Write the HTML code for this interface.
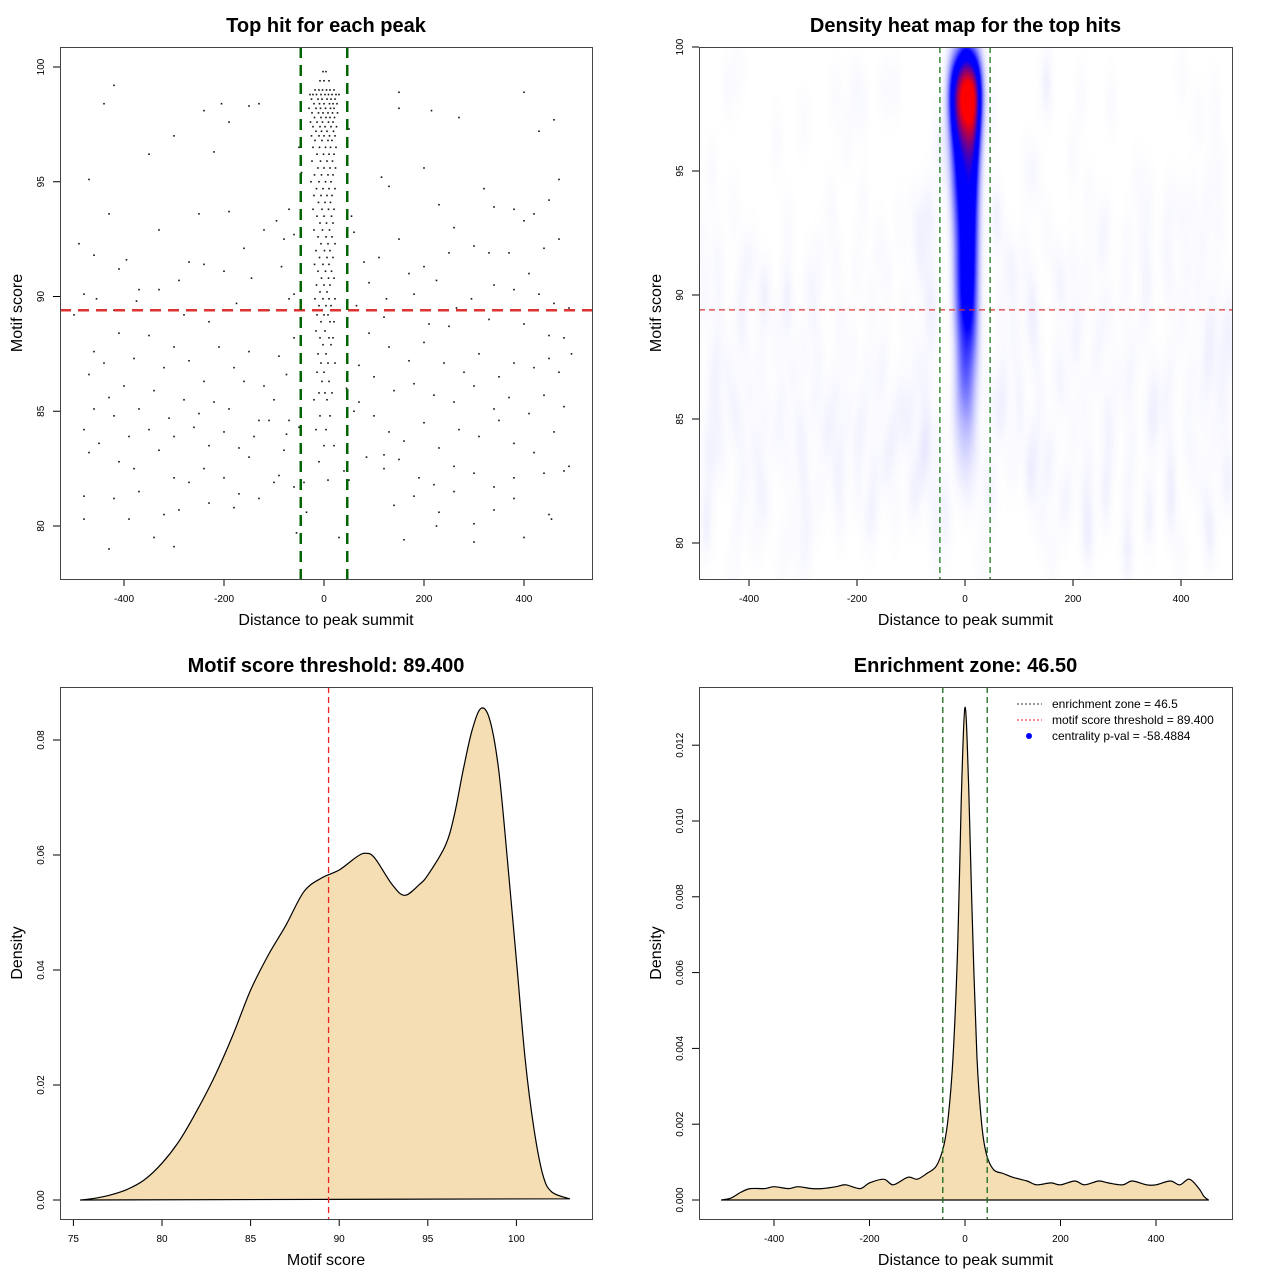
<!DOCTYPE html>
<html><head><meta charset="utf-8">
<style>
html,body{margin:0;padding:0;background:#fff;}
#wrap{position:relative;width:1280px;height:1280px;overflow:hidden;font-family:"Liberation Sans",sans-serif;}
#heat{position:absolute;left:699px;top:47px;}
#svg{position:absolute;left:0;top:0;}
</style></head>
<body>
<div id="wrap">
<canvas id="heat" width="533" height="532"></canvas>
<svg id="svg" width="1280" height="1280" xmlns="http://www.w3.org/2000/svg"></svg>
</div>
<script>
// ---------- data ----------
const enrichmentZone = 46.5;
const scoreThreshold = 89.4;
const backgroundHits = [[-420,99.2],[-440,98.4],[-240,98.1],[-190,97.6],[-350,96.2],[-220,96.3],[-300,97],[-205,98.4],[-150,98.3],[-130,98.4],
[150,98.9],[150,98.2],[215,98.1],[270,97.8],[400,98.9],[430,97.2],[460,97.7],[115,95.2],[130,94.8],[200,95.6],[320,94.7],[380,93.8],[450,94.2],[470,95.1],[230,94],[260,93],[340,93.9],[400,93.3],[420,93.6],
[-470,95.1],[-430,93.6],[-330,92.9],[-270,91.5],[-250,93.6],[-190,93.7],[-160,92.1],[-120,92.9],[-95,93.3],[-80,92.5],[-490,92.3],[-460,91.8],[-410,91.2],[-395,91.6],[-370,90.3],[-330,90.3],[-290,90.7],[-240,91.4],[-200,91.1],[-145,90.8],[-85,91.3],[-60,90.1],[-480,90.1],[-455,89.9],[-420,89.4],[-375,89.8],[-330,89.4],[-280,89.2],[-230,88.9],[-175,89.7],[-110,89.4],[-70,89.9],[-500,89.2],
[110,91.7],[150,92.5],[170,91],[200,91.3],[250,91.9],[300,92.2],[330,91.9],[370,91.9],[410,91],[440,92.1],[470,92.5],[90,90.6],[125,89.9],[180,90.1],[225,90.7],[265,89.5],[295,89.9],[340,90.5],[380,90.3],[430,90.1],[460,89.7],[490,89.5],[120,89.1],[210,88.8],[250,88.7],[330,89],[400,88.8],[450,88.3],[480,88.2],[495,87.5],
[-460,87.6],[-440,87.1],[-410,88.4],[-380,87.3],[-350,88.3],[-320,86.9],[-300,87.8],[-270,87.2],[-240,86.3],[-210,87.8],[-180,86.9],[-150,87.6],[-120,86.1],[-90,87.4],[-60,88.2],[-470,86.6],[-430,85.6],[-400,86.1],[-370,85.1],[-340,85.9],[-310,84.7],[-280,85.5],[-250,84.9],[-220,85.4],[-190,85.1],[-160,86.3],[-130,84.6],[-100,85.5],[-70,84.6],[-460,85.1],[-480,84.2],[-420,84.8],[-390,83.9],[-350,84.2],[-330,83.3],[-300,83.9],[-260,84.3],[-230,83.5],[-200,84.1],[-170,83.4],[-140,83.9],[-110,84.6],[-80,83.3],[-450,83.6],[-470,83.2],[-410,82.8],[-380,82.5],[-300,82.1],[-270,81.9],[-240,82.5],[-200,82.1],[-170,81.4],[-130,81.2],[-90,82.2],[-60,81.7],[-420,81.2],[-370,81.5],[-320,80.5],[-290,80.7],[-230,81.0],[-180,80.8],[-480,81.3],[-480,80.3],[-390,80.3],[-340,79.5],[-300,79.1],[-430,79.0],[-100,81.9],[-150,83.0],
[90,88.4],[130,87.8],[170,87.2],[200,88],[240,87.1],[280,86.7],[310,87.5],[350,86.5],[380,87.1],[420,86.9],[450,87.3],[470,86.7],[100,86.5],[140,85.9],[180,86.2],[220,85.7],[260,85.4],[300,86.1],[340,85.1],[370,85.6],[410,84.9],[440,85.7],[480,85.2],[100,84.8],[130,84.1],[160,83.7],[200,84.5],[230,83.4],[270,84.2],[310,83.9],[350,84.6],[380,83.6],[420,83.2],[460,84.1],[490,82.6],[120,82.5],[150,82.9],[190,82.1],[220,81.8],[260,82.6],[300,82.3],[340,81.7],[380,82.1],[440,82.3],[480,82.4],[140,80.9],[180,81.3],[230,80.6],[260,81.5],[300,80.1],[340,80.7],[380,81.2],[450,80.5],[455,80.3],[225,80.0],[160,79.4],[300,79.3],[400,79.5],[120,83.1],[60,85],[50,82],[70,87],
[-70,93.8],[-60,92.7],[-50,96.5],[-45,95.4],[50,97.3],[55,93.5],[60,92.8],[45,86],[40,82.4],[-50,84.3],[-40,81.9],[-35,80.6],[30,79.5],[-55,79.7],[65,89.6],[80,91.5],[-75,86.6],[70,85.4],[-75,84],[85,83]];
const centralRows = [[99.8,[-2,4]],[99.4,[-8,0,10]],[99.0,[-18,-10,-3,5,12,20]],[98.8,[-28,-22,-15,-6,2,9,16,24,30]],[98.6,[-25,-12,-4,6,14,22]],[98.4,[-20,-9,0,11,18,26]],[98.2,[-30,-16,-7,3,13,20]],[98.0,[-24,-11,-2,8,17,27]],[97.8,[-19,-6,4,12,21]],[97.6,[-27,-14,-3,9,18]],[97.4,[-22,-8,2,14,25]],[97.2,[-16,-5,6,19]],[97.0,[-25,-10,0,11,22]],[96.8,[-18,-4,8,16]],[96.5,[-22,-9,3,13,24]],[96.2,[-14,-1,10,20]],[95.9,[-24,-7,6,17]],[95.6,[-12,0,12,23]],[95.3,[-19,-5,8,18]],[95.0,[-26,-10,3,14]],[94.7,[-15,-2,10,22]],[94.4,[-20,-6,6,16]],[94.1,[-11,2,13]],[93.8,[-22,-4,9,20]],[93.5,[-14,0,15]],[93.2,[-8,5,18]],[92.9,[-20,-3,11]],[92.6,[-12,4,16]],[92.3,[-6,8,22]],[92.0,[-16,1,12]],[91.7,[-9,6,18]],[91.4,[-19,-2,10]],[91.1,[-12,3,15]],[90.8,[-5,9,20]],[90.5,[-15,0,12]],[90.2,[-8,6]],[89.9,[-18,-2,10,22]],[89.6,[-10,4,14]],[89.2,[-14,0,8]],[88.9,[-6,12,20]],[88.5,[-16,2]],[88.2,[-8,10,18]],[87.9,[-2,14]],[87.5,[-12,4]],[87.1,[-6,8,22]],[86.7,[-14,0]],[86.3,[-4,10]],[85.8,[-10,2,16]],[85.5,[-20,6]],[84.8,[-8,12]],[84.2,[-16,4]],[83.5,[0,20]],[82.8,[-10]],[82.0,[8]]];
const scoreGrid = [75.4,76,77,78,79,80,81,82,83,84,85,86,87,88,89,90,91,91.5,92,93,93.7,94.5,95,96,96.5,97,97.5,98,98.5,99,99.5,100,100.5,101,101.5,102,103];
const scoreDensity = [0,0.0002,0.0008,0.0018,0.0035,0.0064,0.0104,0.0157,0.0217,0.0287,0.0365,0.0426,0.0478,0.0536,0.056,0.0574,0.0597,0.0603,0.0595,0.0548,0.053,0.0548,0.0565,0.0617,0.067,0.0748,0.0817,0.0855,0.0835,0.0748,0.059,0.0417,0.0243,0.0122,0.0043,0.0014,0.0002];
const distGrid = [-510,-490,-470,-450,-420,-400,-370,-350,-320,-300,-270,-250,-220,-200,-170,-150,-120,-100,-80,-60,-45,-35,-25,-15,-8,0,8,15,25,35,45,60,80,100,130,150,180,200,230,250,280,300,330,350,380,400,430,450,470,490,500,510];
const distDensity = [0,0.00005,0.0002,0.0003,0.0003,0.00035,0.0003,0.00035,0.0003,0.0003,0.00035,0.0004,0.0003,0.00045,0.00055,0.0004,0.0006,0.00055,0.0007,0.0009,0.0014,0.0022,0.0038,0.0068,0.0105,0.013,0.0108,0.0075,0.0038,0.002,0.0012,0.0008,0.0007,0.0006,0.0005,0.0004,0.00045,0.0004,0.0005,0.0004,0.0005,0.00045,0.0004,0.0005,0.0004,0.0004,0.0005,0.0004,0.00055,0.0003,0.0001,0];
const distTicks = [-400,-200,0,200,400];
const scoreTicks = [80,85,90,95,100];
const densScoreTicks = [0,0.02,0.04,0.06,0.08];
const densScoreLabels = ["0.00","0.02","0.04","0.06","0.08"];
const p3XTicks = [75,80,85,90,95,100];
const densDistTicks = [0,0.002,0.004,0.006,0.008,0.010,0.012];
const densDistLabels = ["0.000","0.002","0.004","0.006","0.008","0.010","0.012"];

// ---------- helpers ----------
const NS="http://www.w3.org/2000/svg";
const svg=document.getElementById('svg');
function mk(tag,attrs,parent,text){const e=document.createElementNS(NS,tag);for(const k in attrs)e.setAttribute(k,attrs[k]);if(text!==undefined)e.textContent=text;(parent||svg).appendChild(e);return e;}
const allHits=[...backgroundHits];
centralRows.forEach(r=>r[1].forEach(x=>allHits.push([x,r[0]])));

const P1={x:v=>324+v*0.5,y:v=>67+(100-v)*22.95,bx:60,by:47,bw:532,bh:532};
const P2={x:v=>965+v*0.54,y:v=>47+(100-v)*24.8,bx:699,by:47,bw:533,bh:532};
const P3={x:v=>162+(v-80)*17.72,y:v=>1200-v*5750,bx:60,by:687,bw:532,bh:532};
const P4={x:v=>965+v*0.4775,y:v=>1200-v*37900,bx:699,by:687,bw:533,bh:532};

function smoothPath(pts){
  let d='M'+pts[0][0].toFixed(1)+','+pts[0][1].toFixed(1);
  for(let i=0;i<pts.length-1;i++){
    const p0=pts[Math.max(0,i-1)],p1=pts[i],p2=pts[i+1],p3=pts[Math.min(pts.length-1,i+2)];
    const c1=[p1[0]+(p2[0]-p0[0])/6,p1[1]+(p2[1]-p0[1])/6];
    const c2=[p2[0]-(p3[0]-p1[0])/6,p2[1]-(p3[1]-p1[1])/6];
    d+=` C${c1[0].toFixed(1)},${c1[1].toFixed(1)} ${c2[0].toFixed(1)},${c2[1].toFixed(1)} ${p2[0].toFixed(1)},${p2[1].toFixed(1)}`;
  }
  return d;
}

function axes(P,name,title,xlab,ylab,xt,xl,yt,yl){
  const g=mk('g',{});
  
  
  const cx=P.bx+P.bw/2;
  const t=mk('text',{x:cx,y:P.by-15,'text-anchor':'middle','font-size':'20','font-weight':'bold'},g,title);
  
  const xa=mk('g',{},g);
  xt.forEach((v,i)=>{const X=P.x(v);mk('line',{x1:X,x2:X,y1:P.by+P.bh,y2:P.by+P.bh+7,stroke:'#000'},xa);
    mk('text',{x:X,y:P.by+P.bh+23,'text-anchor':'middle','font-size':'10'},xa,xl[i]);});
  const xtl=mk('text',{x:cx,y:P.by+P.bh+46,'text-anchor':'middle','font-size':'16'},g,xlab);
  
  const ya=mk('g',{},g);
  yt.forEach((v,i)=>{const Y=P.y(v);mk('line',{x1:P.bx-7,x2:P.bx,y1:Y,y2:Y,stroke:'#000'},ya);
    mk('text',{x:P.bx-16,y:Y,'text-anchor':'middle','font-size':'10',transform:`rotate(-90 ${P.bx-16} ${Y})`},ya,yl[i]);});
  const yy=P.by+P.bh/2;
  const ytl=mk('text',{x:P.bx-38,y:yy,'text-anchor':'middle','font-size':'16',transform:`rotate(-90 ${P.bx-38} ${yy})`},g,ylab);
  
  return g;
}
function box(P,g){const r=mk('rect',{x:P.bx+0.5,y:P.by+0.5,width:P.bw,height:P.bh,fill:'none',stroke:'#444'},g);
  }
function clipFor(P,id){const d=mk('defs',{});const c=mk('clipPath',{id:id},d);mk('rect',{x:P.bx,y:P.by,width:P.bw,height:P.bh},c);}

// ---------- heatmap (KDE of hits) ----------
(function(){
  const cv=document.getElementById('heat');const ctx=cv.getContext('2d');
  const W=cv.width,H=cv.height;const grid=new Float32Array(W*H);
  const sx=9*0.54, sy=1.1*24.8;
  allHits.forEach(([dx,sc])=>{
    const px=P2.x(dx)-P2.bx, py=P2.y(sc)-P2.by;
    const x0=Math.max(0,Math.floor(px-3*sx)),x1=Math.min(W-1,Math.ceil(px+3*sx));
    const y0=Math.max(0,Math.floor(py-3*sy)),y1=Math.min(H-1,Math.ceil(py+3*sy));
    for(let y=y0;y<=y1;y++){const ey=Math.exp(-0.5*((y-py)/sy)**2);
      for(let x=x0;x<=x1;x++){grid[y*W+x]+=ey*Math.exp(-0.5*((x-px)/sx)**2);}}
  });
  let mx=0;for(let i=0;i<grid.length;i++)if(grid[i]>mx)mx=grid[i];
  const img=ctx.createImageData(W,H);
  for(let i=0;i<grid.length;i++){let t=grid[i]/mx;let r,g,b;
    if(t<0.45){const u=Math.pow(Math.min(1,t/0.45),1.6);r=255*(1-u);g=255*(1-u);b=255;}
    else if(t<0.62){r=0;g=0;b=255;}
    else{const u=Math.min(1,(t-0.62)/0.3);r=255*u;g=0;b=255*(1-u);}
    img.data[i*4]=r;img.data[i*4+1]=g;img.data[i*4+2]=b;img.data[i*4+3]=255;}
  ctx.putImageData(img,0,0);
})();

// ---------- panel 1 ----------
(function(){
  const g=axes(P1,'scatter-panel','Top hit for each peak','Distance to peak summit','Motif score',distTicks,distTicks.map(String),scoreTicks,scoreTicks.map(String));
  clipFor(P1,'c1');
  const pts=mk('g',{'clip-path':'url(#c1)'},g);
  allHits.forEach(([dx,sc])=>{const p=mk('rect',{x:P1.x(dx)-0.8,y:P1.y(sc)-0.8,width:1.6,height:1.6,fill:'#111'},pts);
    });
  const l1=mk('line',{x1:P1.bx,x2:P1.bx+P1.bw,y1:P1.y(scoreThreshold),y2:P1.y(scoreThreshold),stroke:'#dd3333','stroke-width':2.5,'stroke-dasharray':'11,7'},g);
  
  [-enrichmentZone,enrichmentZone].forEach(v=>{const l=mk('line',{x1:P1.x(v),x2:P1.x(v),y1:P1.by,y2:P1.by+P1.bh,stroke:'#006400','stroke-width':2.5,'stroke-dasharray':'11,7'},g);
    });
  box(P1,g);
})();

// ---------- panel 2 ----------
(function(){
  const g=axes(P2,'heatmap-panel','Density heat map for the top hits','Distance to peak summit','Motif score',distTicks,distTicks.map(String),scoreTicks,scoreTicks.map(String));
  const l1=mk('line',{x1:P2.bx,x2:P2.bx+P2.bw,y1:P2.y(scoreThreshold),y2:P2.y(scoreThreshold),stroke:'#dd3333','stroke-width':1.3,'stroke-dasharray':'6,4'},g);
  
  [-enrichmentZone,enrichmentZone].forEach(v=>{const l=mk('line',{x1:P2.x(v),x2:P2.x(v),y1:P2.by,y2:P2.by+P2.bh,stroke:'#1a7a1a','stroke-width':1.3,'stroke-dasharray':'6,4'},g);
    });
  box(P2,g);
})();

// ---------- panel 3 ----------
(function(){
  const g=axes(P3,'score-density-panel','Motif score threshold: 89.400','Motif score','Density',p3XTicks,p3XTicks.map(String),densScoreTicks,densScoreLabels);
  const pts=scoreGrid.map((v,i)=>[P3.x(v),P3.y(scoreDensity[i])]);
  const a=mk('path',{d:smoothPath(pts)+' Z',fill:'#f5deb3',stroke:'#000','stroke-width':1.2,'stroke-linejoin':'round'},g);
  
  const l=mk('line',{x1:P3.x(scoreThreshold),x2:P3.x(scoreThreshold),y1:P3.by,y2:P3.by+P3.bh,stroke:'#ee2222','stroke-width':1.3,'stroke-dasharray':'6,4'},g);
  
  box(P3,g);
})();

// ---------- panel 4 ----------
(function(){
  const g=axes(P4,'distance-density-panel','Enrichment zone: 46.50','Distance to peak summit','Density',distTicks,distTicks.map(String),densDistTicks,densDistLabels);
  const pts=distGrid.map((v,i)=>[P4.x(v),P4.y(distDensity[i])]);
  const a=mk('path',{d:smoothPath(pts)+' Z',fill:'#f5deb3',stroke:'#000','stroke-width':1.2,'stroke-linejoin':'round'},g);
  
  [-enrichmentZone,enrichmentZone].forEach(v=>{const l=mk('line',{x1:P4.x(v),x2:P4.x(v),y1:P4.by,y2:P4.by+P4.bh,stroke:'#1a6a1a','stroke-width':1.3,'stroke-dasharray':'6,4'},g);
    });
  const lg=mk('g',{},g);
  const items=[['enrichment zone = 46.5','#333','line'],['motif score threshold = 89.400','#ee2222','line'],['centrality p-val = -58.4884','#0000ff','dot']];
  items.forEach((it,i)=>{const y=704+i*16;const e=mk('g',{},lg);
    
    if(it[2]==='line')mk('line',{x1:1017,x2:1042,y1:y,y2:y,stroke:it[1],'stroke-width':1,'stroke-dasharray':'2,2'},e);
    else mk('circle',{cx:1029,cy:y,r:3,fill:it[1]},e);
    mk('text',{x:1052,y:y+4,'font-size':'12'},e,it[0]);});
  box(P4,g);
})();
</script>
</body></html>
